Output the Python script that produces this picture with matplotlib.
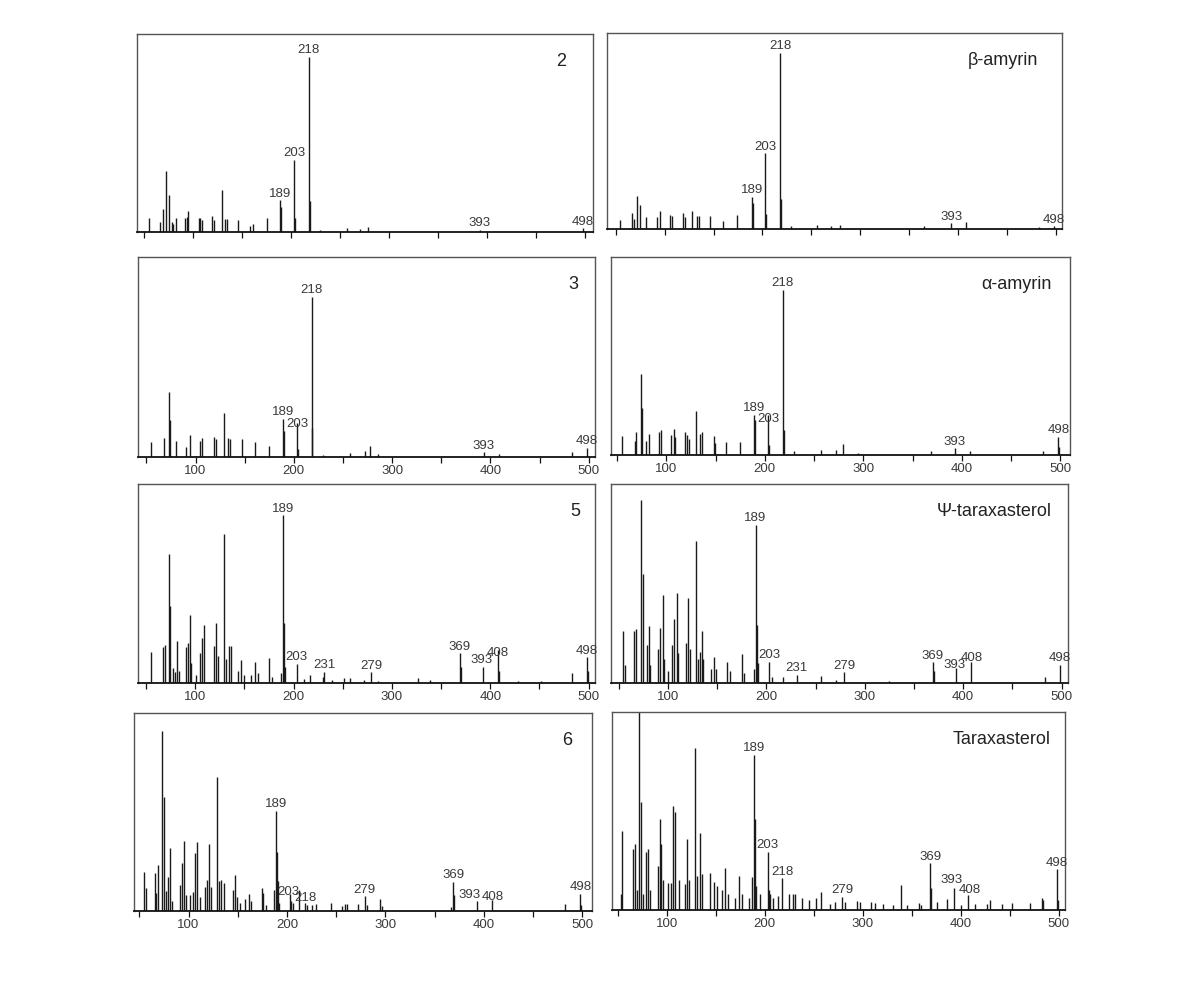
import matplotlib.pyplot as plt
from matplotlib import font_manager
from matplotlib.ticker import FixedLocator, FuncFormatter

# --------------------------------------------------------------
# Data: (m/z, relative height in % of frame)
# --------------------------------------------------------------
peaks_2 = [(55, 7), (66, 5), (69, 11.8), (72, 31), (75, 18.5), (78, 5), (79, 4), (82, 7),
           (92, 7), (94, 7.5), (95, 10.8), (106, 7), (107, 7), (109, 6), (119, 8.3), (121, 6),
           (129, 21.4), (133, 6.5), (135, 6.5), (146, 6), (158, 3), (161, 4), (175, 7),
           (189, 16), (190, 12.6), (203, 36.6), (204, 7), (218, 88.5), (219, 15.5), (230, 1),
           (257, 2), (271, 1.5), (279, 2.5), (393, 1), (498, 2)]
labels_2 = [189, 203, 218, 393, 498]

peaks_bamy = [(54, 4.6), (67, 8.3), (69, 5), (72, 17), (75, 12), (81, 6.3), (92, 6), (95, 9.4),
              (105, 7), (107, 6.5), (119, 8), (121, 6), (128, 9.2), (133, 6.5), (135, 6.5),
              (146, 6.6), (160, 4), (174, 7.2), (189, 16.5), (190, 13), (203, 38.7), (204, 7.5),
              (218, 89.8), (219, 15.3), (229, 1.5), (256, 2), (270, 1.5), (279, 2), (365, 1.5),
              (393, 3), (408, 3.5), (483, 1), (498, 1.5)]
labels_bamy = [189, 203, 218, 393, 498]

peaks_3 = [(55, 7.5), (68, 9.5), (73, 32.6), (74, 18.7), (80, 8), (90, 5), (94, 11), (105, 8),
           (107, 9.5), (119, 10), (121, 9), (129, 22), (133, 9.7), (135, 9), (147, 9), (161, 7.4),
           (175, 5.5), (189, 19.2), (190, 13), (203, 17), (204, 4), (218, 80), (219, 14.5),
           (230, 1), (257, 2), (272, 3), (278, 5.5), (286, 1.5), (393, 2.3), (409, 1.5),
           (483, 2.5), (498, 4.5)]
labels_3 = [189, 203, 218, 393, 498]

peaks_aamy = [(55, 9.6), (68, 7), (69, 11.8), (74, 41), (75, 23.6), (79, 7), (82, 10.5),
              (93, 11.8), (95, 12.6), (105, 10), (108, 13), (109, 9), (119, 11.8), (121, 10),
              (123, 8), (130, 22), (134, 10.5), (136, 11.8), (148, 9.6), (149, 6), (161, 6.7),
              (175, 6.4), (189, 20.2), (190, 17.7), (203, 20), (204, 5), (218, 83.5), (219, 12.6),
              (230, 2), (257, 2.5), (272, 2.5), (279, 5.6), (295, 1), (369, 2), (393, 3.4),
              (408, 2), (483, 2), (498, 9.3), (499, 4)]
labels_aamy = [189, 203, 218, 393, 498]

peaks_5 = [(55, 15.8), (67, 18), (69, 19.2), (73, 64.6), (74, 38.7), (77, 7.4), (79, 5.4),
           (81, 21), (83, 6), (91, 18), (93, 20), (95, 34), (96, 10), (101, 4), (105, 15.2),
           (107, 22.6), (109, 29.3), (119, 18.4), (121, 30), (123, 13.8), (129, 74.7), (131, 12),
           (134, 18.5), (136, 18.5), (143, 6), (147, 11.6), (150, 4), (157, 4), (161, 10.4),
           (164, 5), (175, 12.5), (178, 3), (187, 5), (189, 84.2), (190, 30), (191, 8),
           (203, 9.6), (211, 2), (217, 4), (230, 3), (231, 5.7), (239, 1.5), (251, 2.5),
           (257, 2.5), (272, 1.5), (279, 5.4), (286, 1), (326, 2.5), (339, 1.5), (369, 15),
           (370, 8), (393, 8.2), (408, 16.7), (409, 6), (428, 1), (452, 1), (483, 4.9),
           (498, 13), (499, 6)]
labels_5 = [189, 203, 231, 279, 369, 393, 408, 498]

peaks_ptar = [(54, 26), (56, 9), (66, 26.3), (68, 27.3), (73, 92), (75, 55), (79, 18.9),
              (81, 28.6), (82, 9), (90, 17), (92, 27.6), (95, 44.4), (96, 12), (100, 6),
              (104, 18.9), (106, 32), (109, 45), (110, 15), (118, 20), (120, 42.8), (122, 17),
              (129, 71.5), (131, 12), (133, 15.5), (135, 26.3), (136, 12), (144, 7), (147, 13.3),
              (149, 7), (160, 10.8), (163, 6), (175, 14.6), (177, 5), (187, 7), (189, 79.5),
              (190, 29.3), (191, 10), (203, 10.8), (206, 3), (217, 3), (231, 4), (256, 3.4),
              (271, 1.5), (279, 5.4), (325, 1), (369, 10.4), (370, 6), (393, 7.4), (408, 10.8),
              (483, 3), (498, 9.1)]
labels_ptar = [189, 203, 231, 279, 369, 393, 408, 498]

peaks_6 = [(55, 19.8), (57, 11.5), (66, 19), (67, 9), (69, 23), (73, 91), (75, 57.8), (77, 10),
           (79, 17.2), (81, 31.6), (83, 5), (91, 13), (93, 24.3), (95, 35.5), (97, 8), (102, 8),
           (105, 9.6), (107, 29.4), (109, 35), (112, 7), (117, 12), (119, 15.5), (121, 34),
           (123, 12), (129, 67.6), (131, 15), (133, 15.5), (136, 14.2), (145, 10.8), (147, 18.4),
           (149, 7), (152, 4), (157, 6), (161, 8.8), (164, 5), (175, 11.8), (176, 9), (179, 3),
           (187, 10.8), (189, 50.5), (190, 30), (191, 15), (192, 4), (203, 8.8), (204, 5),
           (206, 4), (212, 10.5), (218, 4), (220, 3), (225, 3), (230, 3.5), (245, 4), (256, 2.5),
           (259, 3.5), (261, 3.5), (272, 3.5), (279, 7.4), (281, 3), (295, 6.3), (297, 2.5),
           (367, 2), (369, 14.7), (370, 8), (393, 4.9), (408, 5.7), (483, 3.4), (498, 8.8),
           (499, 3)]
labels_6 = [189, 203, 218, 279, 369, 393, 408, 498]

peaks_tar = [(53, 8), (54, 40), (66, 30.7), (68, 33.2), (70, 10), (72, 105), (74, 54.8), (76, 8),
             (79, 29.5), (81, 30.9), (83, 10), (91, 22), (93, 45.9), (94, 33.2), (96, 15),
             (101, 13.8), (104, 13.8), (106, 52.3), (108, 49.4), (113, 15.2), (119, 13),
             (121, 35.7), (123, 15), (129, 81.8), (131, 17), (134, 38.8), (136, 18), (144, 18.9),
             (148, 14), (151, 12), (156, 10), (160, 21), (163, 8), (170, 6), (174, 17.2), (177, 8),
             (184, 6), (187, 16.9), (189, 78.4), (190, 45.9), (191, 12), (195, 8), (203, 29.5),
             (204, 10), (205, 8), (209, 6), (214, 7), (218, 16), (225, 8), (229, 8), (231, 8),
             (238, 6), (245, 5), (252, 6), (257, 9), (267, 3), (272, 4), (279, 6.7), (282, 4),
             (294, 4.5), (297, 4), (309, 4), (313, 3.5), (321, 3), (331, 2.5), (339, 12.6),
             (345, 2.5), (357, 3.5), (360, 2.5), (369, 23.6), (370, 11), (376, 4), (386, 5.5),
             (393, 11), (400, 2.5), (408, 7.6), (415, 3), (427, 3), (430, 5), (442, 3), (452, 3.5),
             (471, 3.5), (483, 6), (484, 5), (498, 20.6), (499, 5)]
labels_tar = [189, 203, 218, 279, 369, 393, 408, 498]

titles = ["2", "β-amyrin", "3", "α-amyrin", "5", "Ψ-taraxasterol", "6", "Taraxasterol"]
all_peaks = [peaks_2, peaks_bamy, peaks_3, peaks_aamy, peaks_5, peaks_ptar, peaks_6, peaks_tar]
all_labels = [labels_2, labels_bamy, labels_3, labels_aamy, labels_5, labels_ptar, labels_6, labels_tar]

# --------------------------------------------------------------
# Layout (figure fractions: left, bottom, width, height), x-ranges,
# title anchors and label nudges (dx in m/z, dy in % of frame)
# --------------------------------------------------------------
positions = [
    [0.1148, 0.7642, 0.3822, 0.2012], [0.5088, 0.7673, 0.3814, 0.1992],
    [0.1157, 0.5356, 0.3831, 0.2033], [0.5121, 0.5376, 0.3847, 0.2012],
    [0.1157, 0.3059, 0.3831, 0.2022], [0.5121, 0.3059, 0.3831, 0.2022],
    [0.1123, 0.0742, 0.3839, 0.2012], [0.5130, 0.0752, 0.3797, 0.2012],
]
xlims = [(42.6, 508.5), (41, 506.5), (41.5, 506.5), (43.7, 509.8),
         (41.8, 506.5), (42.1, 506.4), (44.6, 509.9), (44.2, 506.5)]
title_x = [0.941, 0.947, 0.963, 0.961, 0.967, 0.965, 0.958, 0.969]
nudges = [
    {}, {},
    {203: (1, -3.8)},
    {203: (1, -4.9)},
    {393: (-2, 0), 408: (0, -4.7)},
    {393: (-2, -1.8), 408: (1, -1.3)},
    {203: (-2, -2.6), 218: (1, -1), 393: (-7, 0), 408: (1, -2)},
    {393: (-2, 1), 408: (1, -1)},
]

names = {f.name for f in font_manager.fontManager.ttflist}
plt.rcParams["font.family"] = ["Liberation Sans", "DejaVu Sans"]
if "Liberation Sans Narrow" in names:
    label_font = ["Liberation Sans Narrow", "DejaVu Sans"]
    label_size = 11
else:
    label_font = ["Liberation Sans", "DejaVu Sans"]
    label_size = 9.5

fig = plt.figure(figsize=(11.93, 9.84), dpi=100)

for i in range(8):
    ax = fig.add_axes(positions[i])
    mz = [p[0] for p in all_peaks[i]]
    ab = [p[1] for p in all_peaks[i]]
    ax.vlines(mz, 0, ab, color="#1a1a1a", lw=1.0)
    height = dict(all_peaks[i])
    for m in all_labels[i]:
        dx, dy = nudges[i].get(m, (0, 0))
        ax.text(m + dx, min(height[m], 100) + 1.8 + dy, str(m), ha="center", va="baseline",
                fontsize=label_size, family=label_font, color="#3a3a3a")
    ax.text(title_x[i], 0.86, titles[i], transform=ax.transAxes, ha="right", va="center",
            fontsize=13, color="#222222")

    ax.set_xlim(*xlims[i])
    ax.set_ylim(0, 100)
    ax.set_yticks([])
    ax.xaxis.set_major_locator(FixedLocator(range(50, 501, 50)))
    top_row = i < 2
    ax.xaxis.set_major_formatter(FuncFormatter(
        lambda v, pos, top=top_row: "" if (top or v % 100) else f"{v:.0f}"))
    ax.tick_params(axis="x", direction="out", length=4, width=0.9, pad=2,
                   labelsize=label_size, colors="#111111", labelcolor="#3a3a3a")
    for side in ["left", "right", "top"]:
        ax.spines[side].set_color("#555555")
        ax.spines[side].set_linewidth(1.0)
    ax.spines["bottom"].set_color("#111111")
    ax.spines["bottom"].set_linewidth(1.3)
    for t in ax.get_xticklabels():
        t.set_family(label_font)

fig.savefig("out.png", dpi=100)
